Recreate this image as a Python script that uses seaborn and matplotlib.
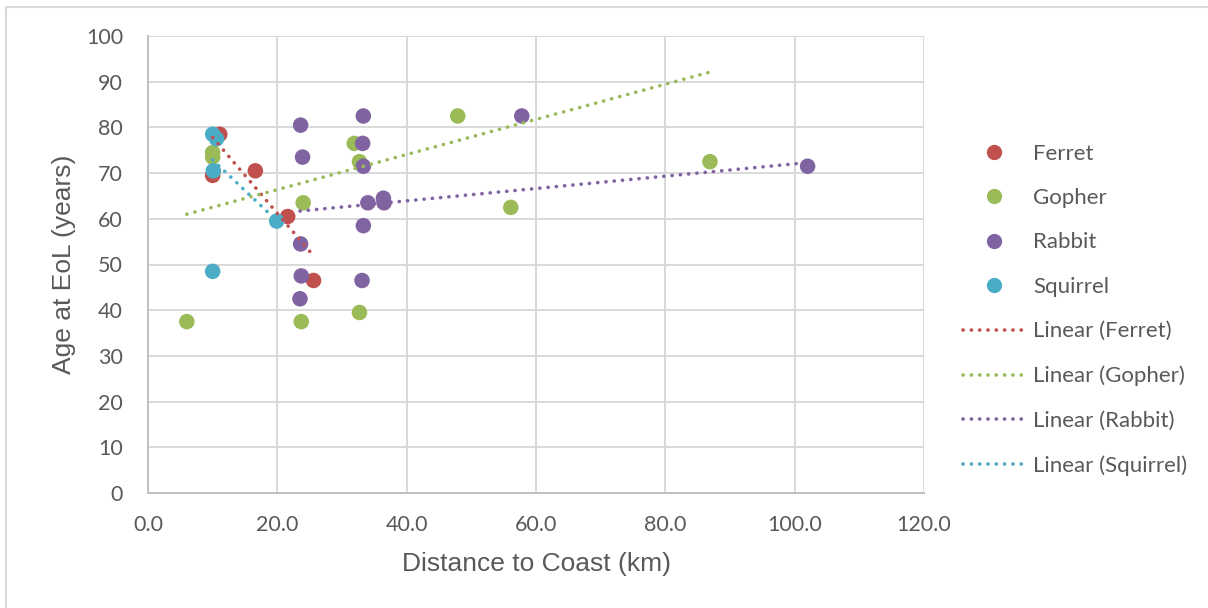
import numpy as np
import pandas as pd
import matplotlib
matplotlib.use("Agg")
import matplotlib.pyplot as plt
from matplotlib.lines import Line2D
from matplotlib.patches import Rectangle
import seaborn as sns

# ---------------- data ----------------
species = ["Ferret", "Gopher", "Rabbit", "Squirrel"]

ferret_x = [11.1, 10.0, 16.6, 21.6, 25.6]
ferret_y = [78.5, 69.5, 70.5, 60.5, 46.5]

gopher_x = [6.0, 10.0, 10.0, 24.0, 23.7, 47.9, 31.9, 32.7, 56.1, 32.7, 86.9]
gopher_y = [37.5, 74.5, 73.5, 63.5, 37.5, 82.5, 76.5, 72.5, 62.5, 39.5, 72.5]

rabbit_x = [23.6, 23.9, 23.6, 23.7, 23.5, 33.3, 33.2, 33.3, 34.0, 36.4, 36.5, 33.3, 33.1, 57.8, 102.0]
rabbit_y = [80.5, 73.5, 54.5, 47.5, 42.5, 82.5, 76.5, 71.5, 63.5, 64.5, 63.5, 58.5, 46.5, 82.5, 71.5]

squirrel_x = [10.0, 10.6, 10.1, 19.9, 10.0]
squirrel_y = [78.5, 77.5, 70.5, 59.5, 48.5]

# Linear trendlines (start / end values)
trend_x_start = [10.0, 6.0, 23.5, 10.0]
trend_x_end = [25.6, 86.9, 102.0, 19.9]
trend_y_start = [77.8, 61.0, 61.7, 72.9]
trend_y_end = [51.9, 92.1, 72.3, 59.6]

x_ticks = [0, 20, 40, 60, 80, 100, 120]
x_tick_labels = ["0.0", "20.0", "40.0", "60.0", "80.0", "100.0", "120.0"]
y_ticks = [0, 10, 20, 30, 40, 50, 60, 70, 80, 90, 100]

colors = ["#C0504D", "#9BBB59", "#8064A2", "#4BACC6"]

# ---------------- frames ----------------
pts = pd.concat([
    pd.DataFrame({"x": ferret_x, "y": ferret_y, "Species": "Ferret"}),
    pd.DataFrame({"x": gopher_x, "y": gopher_y, "Species": "Gopher"}),
    pd.DataFrame({"x": rabbit_x, "y": rabbit_y, "Species": "Rabbit"}),
    pd.DataFrame({"x": squirrel_x, "y": squirrel_y, "Species": "Squirrel"}),
], ignore_index=True)

trend = pd.DataFrame({
    "x": trend_x_start + trend_x_end,
    "y": trend_y_start + trend_y_end,
    "Species": species + species,
})

# ---------------- plot ----------------
sns.set_theme(style="white")
tick_font = ["Lato", "DejaVu Sans"]
label_font = ["Liberation Sans", "DejaVu Sans"]
text_color = "#595959"
dot_style = (0, (0.05, 2.25))
dot_lw = 2.6

fig = plt.figure(figsize=(12.08, 6.08), dpi=100)
ax = fig.add_axes([148 / 1208, 1 - 493 / 608, (924 - 148) / 1208, (493 - 36) / 608])

palette = dict(zip(species, colors))
sns.scatterplot(data=pts, x="x", y="y", hue="Species", hue_order=species,
                palette=palette, s=125, linewidth=0, alpha=1.0,
                legend=False, ax=ax, zorder=3)

for sp in species:
    sub = trend[trend["Species"] == sp]
    sns.lineplot(data=sub, x="x", y="y", color=palette[sp], ax=ax,
                 linewidth=dot_lw, linestyle=dot_style,
                 dash_capstyle="round", legend=False, zorder=4,
                 estimator=None, sort=False)

ax.set_xlim(0, 120)
ax.set_ylim(0, 100)
ax.set_xticks(x_ticks)
ax.set_xticklabels(x_tick_labels)
ax.set_yticks(y_ticks)
ax.set_yticklabels([str(v) for v in y_ticks])

ax.grid(True, color="#D9D9D9", linewidth=1.4)
ax.set_axisbelow(True)
for side in ["top", "right"]:
    ax.spines[side].set_visible(False)
for side in ["left", "bottom"]:
    ax.spines[side].set_color("#BFBFBF")
    ax.spines[side].set_linewidth(1.4)
ax.tick_params(axis="both", length=0, labelcolor=text_color, labelsize=15.5)
ax.tick_params(axis="y", pad=18)
ax.tick_params(axis="x", pad=16)
for lab in ax.get_xticklabels() + ax.get_yticklabels():
    lab.set_family(tick_font)

ax.set_xlabel("Distance to Coast (km)", fontsize=19, color=text_color,
              family=label_font, labelpad=12)
ax.set_ylabel("Age at EoL (years)", fontsize=19, color=text_color,
              family=label_font, labelpad=7)

# legend
handles = []
labels = []
for sp, c in zip(species, colors):
    handles.append(Line2D([], [], linestyle="none", marker="o", markersize=11,
                          markerfacecolor=c, markeredgewidth=0))
    labels.append(sp)
for sp, c in zip(species, colors):
    handles.append(Line2D([], [], color=c, linewidth=dot_lw,
                          linestyle=dot_style, dash_capstyle="round"))
    labels.append(f"Linear ({sp})")
leg = fig.legend(handles, labels, loc="upper left",
                 bbox_to_anchor=(963 / 1208, 1 - 143.5 / 608),
                 frameon=False, handlelength=2.8, handletextpad=0.36,
                 labelspacing=1.1, borderpad=0, borderaxespad=0,
                 prop={"family": tick_font, "size": 16})
for t in leg.get_texts():
    t.set_color(text_color)

# outer chart border
fig.patches.append(Rectangle((5.5 / 1208, -0.05), 1.2, 1.05 - 6.5 / 608,
                             transform=fig.transFigure, fill=False,
                             edgecolor="#D9D9D9", linewidth=1.5))

fig.savefig("out.png", dpi=100, facecolor="white")
